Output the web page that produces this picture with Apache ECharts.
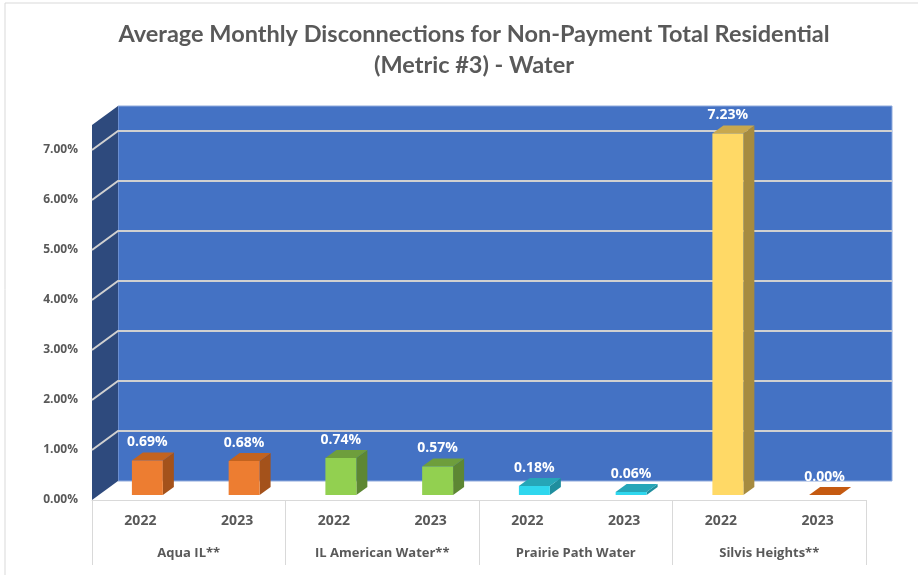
<!DOCTYPE html>
<html>
<head>
<meta charset="utf-8">
<script src="https://cdn.jsdelivr.net/npm/echarts@6/dist/echarts.min.js"></script>
<style>
  html, body { margin: 0; padding: 0; background: #fff; }
  #chart { width: 918px; height: 575px; }
</style>
</head>
<body>
<div id="chart"></div>
<script>
// data
var years = ['2022', '2023', '2022', '2023', '2022', '2023', '2022', '2023'];
var groups = ['Aqua IL**', 'IL American Water**', 'Prairie Path Water', 'Silvis Heights**'];
var values = [0.69, 0.68, 0.74, 0.57, 0.18, 0.06, 7.23, 0.00];
var yTicks = [1, 2, 3, 4, 5, 6, 7];
var yMax = 7.5;

// front / top / side colour for each bar
var barColors = [
    ['#ED7D31', '#C3631F', '#A4521B'],
    ['#ED7D31', '#C3631F', '#A4521B'],
    ['#92D050', '#6E9E3C', '#5D8733'],
    ['#92D050', '#6E9E3C', '#5D8733'],
    ['#2FD7EE', '#26A6B8', '#1F8E9E'],
    ['#2FD7EE', '#26A6B8', '#1F8E9E'],
    ['#FFD966', '#C8A84E', '#A68B40'],
    ['#C55A11', '#C55A11', '#9E470D']
];

// depth of the 3d box (pixels)
var DX = 26, DY = -19;
var BAR_OX = 7, BAR_OY = -5, BDX = 11, BDY = -8;
var FONT = 'Open Sans';

var myChart = echarts.init(document.getElementById('chart'));

function renderWalls(params, api) {
    var cs = params.coordSys;
    var L = cs.x, R = cs.x + cs.width;
    var top = api.coord([0, yMax])[1];
    var bot = api.coord([0, 0])[1];
    var children = [];
    // floor
    children.push({
        type: 'polygon',
        shape: {points: [[L, bot], [L + DX, bot + DY], [R + DX, bot + DY], [R, bot]]},
        style: {fill: '#ffffff'}
    });
    // back wall
    children.push({
        type: 'rect',
        shape: {x: L + DX, y: top + DY, width: R - L, height: bot - top},
        style: {fill: '#4472C4', stroke: '#8FAADC', lineWidth: 1}
    });
    // side wall
    children.push({
        type: 'polygon',
        shape: {points: [[L, top], [L + DX, top + DY], [L + DX, bot + DY], [L, bot]]},
        style: {fill: '#2E4A7D'}
    });
    // grid lines
    yTicks.forEach(function (t) {
        var y = api.coord([0, t])[1];
        children.push({
            type: 'polyline',
            shape: {points: [[L, y], [L + DX, y + DY], [R + DX, y + DY]]},
            style: {stroke: '#D0D0D0', lineWidth: 2, fill: null}
        });
    });
    return {type: 'group', children: children};
}

function renderBar(params, api) {
    var i = api.value(0), v = api.value(1);
    var base = api.coord([i, 0]);
    var top = api.coord([i, v]);
    var w = api.size([1, 0])[0] * 0.32;
    var x0 = base[0] + BAR_OX - w / 2, x1 = x0 + w;
    var yb = base[1] + BAR_OY, yt = top[1] + BAR_OY;
    var c = barColors[i];
    return {
        type: 'group',
        children: [
            {
                type: 'polygon',
                shape: {points: [[x1, yb], [x1 + BDX, yb + BDY], [x1 + BDX, yt + BDY], [x1, yt]]},
                style: {fill: c[2]}
            },
            {
                type: 'polygon',
                shape: {points: [[x0, yt], [x1, yt], [x1 + BDX, yt + BDY], [x0 + BDX, yt + BDY]]},
                style: {fill: c[1]}
            },
            {
                type: 'rect',
                shape: {x: x0, y: yt, width: w, height: yb - yt},
                style: {fill: c[0]}
            },
            {
                type: 'text',
                x: x0 + w / 2,
                y: yt + BDY - 3,
                style: {
                    text: v.toFixed(2) + '%',
                    fill: '#ffffff',
                    font: 'bold 14px "' + FONT + '"',
                    align: 'center',
                    verticalAlign: 'bottom'
                }
            }
        ]
    };
}

var option = {
    animation: false,
    title: {
        text: 'Average Monthly Disconnections for Non-Payment Total Residential\n(Metric #3) - Water',
        left: 469,
        textAlign: 'center',
        top: 14,
        textStyle: {
            color: '#595959',
            fontFamily: 'Lato',
            fontWeight: 'bold',
            fontSize: 23.5,
            lineHeight: 31
        }
    },
    graphic: [{
        type: 'rect',
        shape: {x: 5, y: 3, width: 930, height: 600},
        style: {fill: null, stroke: '#D9D9D9', lineWidth: 1},
        silent: true
    }],
    grid: {left: 92, right: 52, top: 125, bottom: 75},
    xAxis: [
        {
            type: 'category',
            data: years,
            position: 'bottom',
            axisLine: {show: false},
            axisTick: {show: false},
            axisLabel: {
                margin: 14,
                color: '#595959',
                fontFamily: FONT,
                fontWeight: 'bold',
                fontSize: 14
            }
        },
        {
            type: 'category',
            data: groups,
            position: 'bottom',
            axisLine: {show: true, lineStyle: {color: '#D9D9D9', width: 1}},
            axisTick: {show: true, length: 65, lineStyle: {color: '#D9D9D9', width: 1}},
            axisLabel: {
                margin: 47,
                color: '#595959',
                fontFamily: FONT,
                fontWeight: 'bold',
                fontSize: 13
            }
        }
    ],
    yAxis: {
        type: 'value',
        min: 0,
        max: yMax,
        interval: 1,
        axisLine: {show: false},
        axisTick: {show: false},
        splitLine: {show: false},
        axisLabel: {
            margin: 14,
            color: '#595959',
            fontFamily: FONT,
            fontWeight: 'bold',
            fontSize: 12,
            formatter: function (v) {
                return v % 1 === 0 ? v.toFixed(2) + '%' : '';
            }
        }
    },
    series: [
        {
            type: 'custom',
            name: 'walls',
            xAxisIndex: 0,
            renderItem: renderWalls,
            data: [[0, 0]],
            silent: true
        },
        {
            type: 'custom',
            name: 'bars',
            xAxisIndex: 0,
            renderItem: renderBar,
            encode: {x: 0, y: 1},
            data: values.map(function (v, i) { return [i, v]; })
        }
    ]
};

myChart.setOption(option);
</script>
</body>
</html>
